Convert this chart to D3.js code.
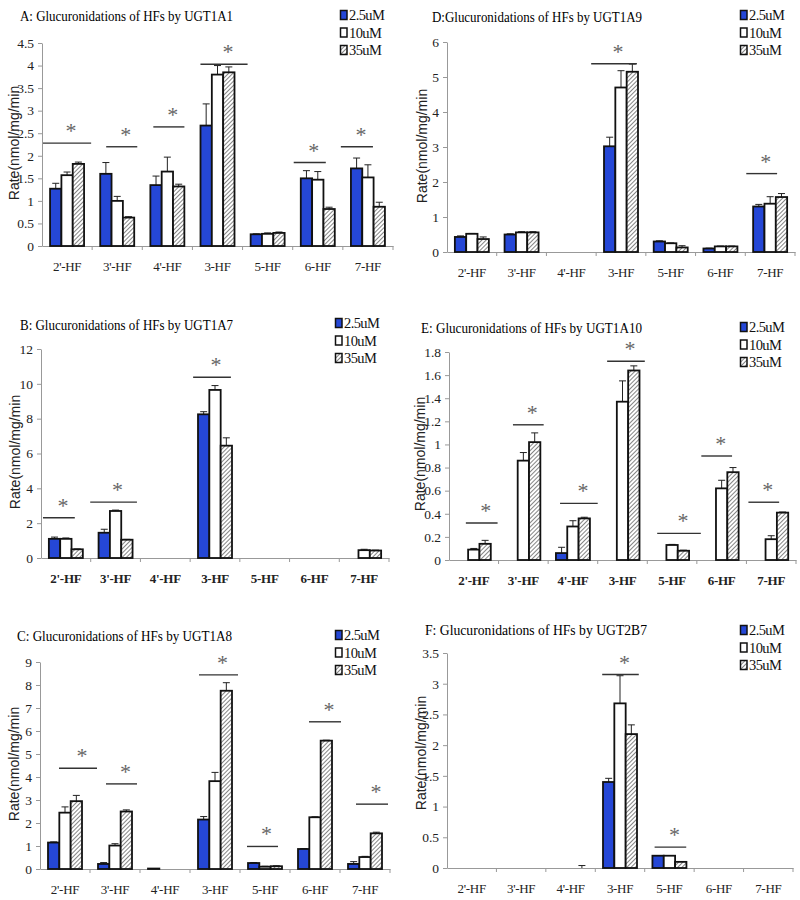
<!DOCTYPE html>
<html>
<head>
<meta charset="utf-8">
<script src="https://cdn.jsdelivr.net/npm/d3@7"></script>
<style>
  body { margin: 0; background: #fff; }
  svg { display: block; }
</style>
</head>
<body>
<div id="chart"></div>
<script>
// categories and doses
const categories = ["2'-HF", "3'-HF", "4'-HF", "3-HF", "5-HF", "6-HF", "7-HF"];
const doses = ["2.5uM", "10uM", "35uM"];

// A: UGT1A1
const a25 = [1.27, 1.60, 1.35, 2.67, 0.26, 1.50, 1.72];
const a10 = [1.57, 1.00, 1.65, 3.80, 0.27, 1.47, 1.52];
const a35 = [1.82, 0.63, 1.32, 3.85, 0.29, 0.82, 0.87];
const a25err = [0.12, 0.25, 0.20, 0.48, 0.01, 0.17, 0.23];
const a10err = [0.07, 0.10, 0.32, 0.20, 0.02, 0.18, 0.28];
const a35err = [0.04, 0.02, 0.05, 0.12, 0.02, 0.04, 0.10];
// significance bars: [category, level, from, to] (from/to in band widths from centre)
const aSig = [["2'-HF", 2.28, -0.48, 0.48], ["3'-HF", 2.2, -0.22, 0.4], ["4'-HF", 2.64, -0.28, 0.34],
              ["3-HF", 4.03, -0.34, 0.6], ["6-HF", 1.85, -0.48, 0.16], ["7-HF", 2.2, -0.54, 0.1]];

// D: UGT1A9
const d25 = [0.43, 0.50, 0, 3.02, 0.30, 0.10, 1.30];
const d10 = [0.52, 0.56, 0, 4.70, 0.25, 0.16, 1.38];
const d35 = [0.37, 0.56, 0, 5.15, 0.13, 0.16, 1.57];
const d25err = [0.03, 0.02, 0, 0.26, 0.02, 0.01, 0.06];
const d10err = [0.01, 0.02, 0, 0.48, 0.01, 0.01, 0.20];
const d35err = [0.06, 0.02, 0, 0.22, 0.05, 0.01, 0.10];
const dSig = [["3-HF", 5.38, -0.6, 0.32], ["7-HF", 2.24, -0.48, 0.14]];

// B: UGT1A7
const b25 = [1.10, 1.45, 0, 8.25, 0, 0, 0];
const b10 = [1.10, 2.70, 0, 9.65, 0, 0, 0.45];
const b35 = [0.50, 1.05, 0, 6.45, 0, 0, 0.43];
const b25err = [0.10, 0.20, 0, 0.15, 0, 0, 0];
const b10err = [0.05, 0.05, 0, 0.25, 0, 0, 0.05];
const b35err = [0.02, 0.02, 0, 0.45, 0, 0, 0.02];
const bSig = [["2'-HF", 2.31, -0.46, 0.18], ["3'-HF", 3.21, -0.51, 0.43], ["3-HF", 10.38, -0.44, 0.32]];

// E: UGT1A10
const e25 = [0, 0, 0.06, 0, 0, 0, 0];
const e10 = [0.09, 0.86, 0.29, 1.37, 0.13, 0.62, 0.18];
const e35 = [0.14, 1.02, 0.36, 1.64, 0.08, 0.76, 0.41];
const e25err = [0, 0, 0.05, 0, 0, 0, 0];
const e10err = [0.01, 0.07, 0.05, 0.18, 0.005, 0.07, 0.03];
const e35err = [0.03, 0.08, 0.01, 0.04, 0.005, 0.04, 0.005];
const eSig = [["2'-HF", 0.32, -0.16, 0.48], ["3'-HF", 1.17, -0.21, 0.41], ["4'-HF", 0.49, -0.26, 0.5],
              ["3-HF", 1.72, -0.31, 0.45], ["5-HF", 0.23, -0.3, 0.58], ["6-HF", 0.9, -0.41, 0.21],
              ["7-HF", 0.5, -0.46, 0.16]];

// C: UGT1A8
const c25 = [1.15, 0.22, 0.02, 2.15, 0.26, 0.87, 0.22];
const c10 = [2.45, 1.02, 0, 3.82, 0.10, 2.25, 0.52];
const c35 = [2.95, 2.50, 0, 7.75, 0.12, 5.58, 1.55];
const c25err = [0.03, 0.06, 0, 0.13, 0.02, 0.02, 0.10];
const c10err = [0.25, 0.08, 0, 0.38, 0.02, 0.02, 0.03];
const c35err = [0.25, 0.07, 0, 0.35, 0.02, 0.02, 0.05];
const cSig = [["2'-HF", 4.38, -0.12, 0.64], ["3'-HF", 3.7, -0.18, 0.44], ["3-HF", 8.44, -0.32, 0.46],
              ["5-HF", 0.98, -0.36, 0.26], ["6-HF", 6.4, -0.12, 0.52], ["7-HF", 2.82, -0.18, 0.46]];

// F: UGT2B7
const f25 = [0, 0, 0, 1.40, 0.20, 0, 0];
const f10 = [0, 0, 0, 2.68, 0.20, 0, 0];
const f35 = [0, 0, 0, 2.18, 0.10, 0, 0];
const f25err = [0, 0, 0, 0.06, 0, 0, 0];
const f10err = [0, 0, 0, 0.45, 0, 0, 0];
const f35err = [0, 0, 0.04, 0.15, 0, 0, 0];
const fSig = [["3-HF", 3.15, -0.36, 0.38], ["5-HF", 0.34, -0.3, 0.34]];

const panels = [
  { title: "A: Glucuronidations of HFs by UGT1A1", vals: [a25, a10, a35], errs: [a25err, a10err, a35err], sig: aSig,
    yMax: 4.5, step: 0.5, left: 42, right: 393, top: 43, bottom: 246, tx: 20, ty: 21, tl: 213,
    lx: 340, ly: 15, labX: 14, labY: 143, bold: false },
  { title: "D:Glucuronidations of HFs by UGT1A9", vals: [d25, d10, d35], errs: [d25err, d10err, d35err], sig: dSig,
    yMax: 6, step: 1, left: 447, right: 795, top: 42, bottom: 252, tx: 432, ty: 22, tl: 210,
    lx: 740, ly: 15, labX: 422, labY: 146, bold: false },
  { title: "B: Glucuronidations of HFs by UGT1A7", vals: [b25, b10, b35], errs: [b25err, b10err, b35err], sig: bSig,
    yMax: 12, step: 2, left: 41, right: 389, top: 349, bottom: 558, tx: 20, ty: 330, tl: 213,
    lx: 335, ly: 323, labX: 15, labY: 452, bold: true },
  { title: "E: Glucuronidations of HFs by UGT1A10", vals: [e25, e10, e35], errs: [e25err, e10err, e35err], sig: eSig,
    yMax: 1.8, step: 0.2, left: 449, right: 796, top: 352, bottom: 560, tx: 421, ty: 333, tl: 221,
    lx: 740, ly: 327, labX: 420, labY: 454, bold: true },
  { title: "C: Glucuronidations of HFs by UGT1A8", vals: [c25, c10, c35], errs: [c25err, c10err, c35err], sig: cSig,
    yMax: 9, step: 1, left: 40, right: 390, top: 662, bottom: 869, tx: 17, ty: 641, tl: 215,
    lx: 335, ly: 635, labX: 14, labY: 764, bold: false },
  { title: "F: Glucuronidations of HFs by UGT2B7", vals: [f25, f10, f35], errs: [f25err, f10err, f35err], sig: fSig,
    yMax: 3.5, step: 0.5, left: 447, right: 793, top: 653, bottom: 868, tx: 425, ty: 635, tl: 222,
    lx: 740, ly: 630, labX: 421, labY: 753, bold: false }
];

const W = 800, H = 900;
const serif = "'Liberation Serif', 'DejaVu Serif', serif";
const sans = "'Liberation Sans', Arial, sans-serif";
const blue = "#2547d6";

const svg = d3.select("#chart").append("svg")
  .attr("width", W).attr("height", H);

const defs = svg.append("defs");
const pat = defs.append("pattern")
  .attr("id", "hatch").attr("patternUnits", "userSpaceOnUse")
  .attr("width", 3).attr("height", 3)
  .attr("patternTransform", "rotate(45)");
pat.append("rect").attr("width", 3).attr("height", 3).attr("fill", "#fff");
pat.append("line").attr("x1", 0).attr("y1", 0).attr("x2", 0).attr("y2", 3)
  .attr("stroke", "#333").attr("stroke-width", 1.2);

const fills = [blue, "#fff", "url(#hatch)"];

panels.forEach(p => {
  const g = svg.append("g");

  const x = d3.scaleBand().domain(categories).range([p.left, p.right]).padding(0);
  const inner = d3.scaleBand().domain(doses).range([-17, 17]).padding(0);
  const y = d3.scaleLinear().domain([0, p.yMax]).range([p.bottom, p.top]);

  // title
  g.append("text")
    .attr("x", p.tx).attr("y", p.ty)
    .attr("textLength", p.tl).attr("lengthAdjust", "spacingAndGlyphs")
    .style("font-family", serif).style("font-size", "15px")
    .text(p.title);

  // y axis
  const yAxis = d3.axisLeft(y)
    .tickValues(d3.range(0, p.yMax + p.step / 2, p.step))
    .tickFormat(d => String(+d.toFixed(1)))
    .tickSize(4).tickSizeOuter(0).tickPadding(4);
  const ya = g.append("g").attr("transform", `translate(${p.left},0)`).call(yAxis);
  ya.select(".domain").attr("stroke", "#999");
  ya.selectAll(".tick line").attr("stroke", "#999");
  ya.selectAll(".tick text").style("font-family", serif).style("font-size", "13.5px").attr("fill", "#222");

  // x axis
  const xAxis = d3.axisBottom(x).tickSize(0).tickSizeOuter(0).tickPadding(16);
  const xa = g.append("g").attr("transform", `translate(0,${p.bottom})`).call(xAxis);
  xa.select(".domain").attr("stroke", "#999");
  xa.selectAll(".tick text")
    .style("font-family", serif).style("font-size", "13px").attr("fill", "#222")
    .style("font-weight", p.bold ? "bold" : "normal")
    .attr("letter-spacing", "-0.3px");
  g.append("g").selectAll("line").data(categories).join("line")
    .attr("x1", d => x(d) + x.bandwidth()).attr("x2", d => x(d) + x.bandwidth())
    .attr("y1", p.bottom).attr("y2", p.bottom + 4)
    .attr("stroke", "#999");

  // y label
  g.append("text")
    .attr("transform", `translate(${p.labX},${p.labY}) rotate(-90)`)
    .attr("text-anchor", "middle").attr("dy", "0.35em")
    .style("font-family", sans).style("font-size", "14px").attr("fill", "#222")
    .text("Rate(nmol/mg/min");

  // bars
  doses.forEach((dose, k) => {
    const bars = categories.map((c, i) => ({ c, v: p.vals[k][i], e: p.errs[k][i] }));
    const bg = g.append("g");
    const mid = d => x(d.c) + x.bandwidth() / 2 + inner(dose) + inner.bandwidth() / 2;
    bg.selectAll("line.err").data(bars.filter(d => d.e > 0)).join("line")
      .attr("class", "err")
      .attr("x1", mid).attr("x2", mid)
      .attr("y1", d => y(d.v)).attr("y2", d => y(d.v + d.e))
      .attr("stroke", "#222").attr("stroke-width", 1);
    bg.selectAll("line.cap").data(bars.filter(d => d.e > 0)).join("line")
      .attr("class", "cap")
      .attr("x1", d => mid(d) - 3.5).attr("x2", d => mid(d) + 3.5)
      .attr("y1", d => y(d.v + d.e)).attr("y2", d => y(d.v + d.e))
      .attr("stroke", "#222").attr("stroke-width", 1);
    bg.selectAll("rect").data(bars).join("rect")
      .attr("x", d => x(d.c) + x.bandwidth() / 2 + inner(dose))
      .attr("width", inner.bandwidth())
      .attr("y", d => y(d.v))
      .attr("height", d => y(0) - y(d.v))
      .attr("fill", fills[k])
      .attr("stroke", d => d.v > 0 ? "#111" : "#bbb")
      .attr("stroke-width", d => d.v > 0 ? 1.8 : 1);
  });

  // significance bars and stars
  const sg = g.append("g");
  p.sig.forEach(([c, lvl, from, to]) => {
    const cx = x(c) + x.bandwidth() / 2;
    const x1 = cx + from * x.bandwidth(), x2 = cx + to * x.bandwidth();
    sg.append("line")
      .attr("x1", x1).attr("x2", x2).attr("y1", y(lvl)).attr("y2", y(lvl))
      .attr("stroke", "#333").attr("stroke-width", 1.4);
    sg.append("text")
      .attr("x", (x1 + x2) / 2 + 4).attr("y", y(lvl) - 5)
      .attr("text-anchor", "middle")
      .style("font-family", serif).style("font-size", "22px").attr("fill", "#666")
      .text("*");
  });

  // legend
  const lg = g.append("g").attr("transform", `translate(${p.lx},${p.ly})`);
  doses.forEach((dose, k) => {
    const row = lg.append("g").attr("transform", `translate(0,${k * 17.5})`);
    row.append("rect").attr("x", 0.5).attr("y", -4.5).attr("width", 6.5).attr("height", 9)
      .attr("fill", fills[k]).attr("stroke", "#111").attr("stroke-width", 1.5);
    row.append("text").attr("x", 9).attr("y", 0).attr("dy", "0.35em")
      .style("font-family", serif).style("font-size", "14.5px").attr("letter-spacing", "-0.6px")
      .attr("fill", "#111").text(dose);
  });
});
</script>
</body>
</html>
